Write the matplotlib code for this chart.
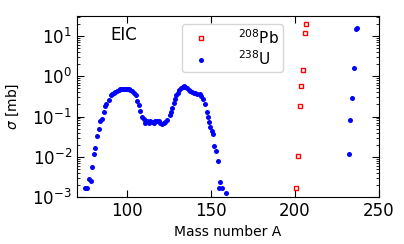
import numpy as np
import matplotlib
matplotlib.use('Agg')
import matplotlib.pyplot as plt

# 238U fragments (blue dots)
u_mass = [74.8, 76.0, 77.1, 78.3, 79.2, 80.1, 81.1, 82.1, 83.1, 84.1, 85.1, 86.3, 87.1, 87.7,
          89.0, 90.1, 90.7, 92.0, 93.0, 94.0, 95.0, 96.0, 97.0, 98.0, 99.0, 100.0, 101.0,
          102.0, 103.0, 104.0, 105.0, 106.0, 106.9, 107.9, 108.9, 109.9,
          110.9, 111.9, 112.9, 113.9, 114.9, 115.8, 116.8, 117.8, 118.8, 119.8, 120.8,
          121.8, 122.8, 123.8, 125.4, 126.2, 126.8, 127.8, 128.3, 129.2, 130.1, 131.1,
          132.1, 133.1, 133.9, 134.7, 135.7, 136.7, 137.7, 138.7, 139.6, 140.7, 141.7,
          143.2, 144.0, 145.2, 146.4, 147.4, 148.3, 148.9, 149.5, 150.6, 151.2, 152.0,
          153.0, 154.0, 154.9, 155.5, 156.5, 158.9,
          231.9, 232.7, 233.7, 234.9, 236.5, 237.1]
u_sigma = [0.00166, 0.00166, 0.0028, 0.0025, 0.0056, 0.0118, 0.0165, 0.032, 0.048, 0.079,
           0.087, 0.13, 0.18, 0.20, 0.26, 0.34, 0.36, 0.39, 0.42, 0.44, 0.46, 0.48, 0.48,
           0.48, 0.48, 0.49, 0.48, 0.46, 0.43, 0.39, 0.35, 0.25, 0.19, 0.14, 0.10, 0.085,
           0.071, 0.079, 0.071, 0.079, 0.075, 0.068, 0.079, 0.077, 0.079, 0.071, 0.066,
           0.071, 0.075, 0.083, 0.11, 0.13, 0.16, 0.22, 0.28, 0.35, 0.39, 0.46, 0.50,
           0.55, 0.58, 0.55, 0.50, 0.46, 0.43, 0.42, 0.39, 0.38, 0.36, 0.36, 0.32, 0.27,
           0.20, 0.13, 0.10, 0.074, 0.056, 0.043, 0.036, 0.019, 0.014, 0.0078, 0.00166,
           0.0024, 0.00166, 0.00126,
           0.0118, 0.083, 0.29, 1.58, 15.0, 15.8]

# 208Pb fragments (red open squares)
pb_mass = [200.6, 202.0, 202.7, 203.8, 204.8, 205.7, 206.7]
pb_sigma = [0.00166, 0.0104, 0.18, 0.58, 1.43, 11.7, 20.6]

fig = plt.figure(figsize=(4.04, 2.44), dpi=100)
ax = fig.add_axes([0.19, 0.193, 0.748, 0.741])

ax.plot(pb_mass, pb_sigma, 's', color='red', mfc='none', ms=3, mew=1.0, label=r'$^{208}$Pb')
ax.plot(u_mass, u_sigma, 'o', color='blue', ms=3.6, mec='none', label=r'$^{238}$U')

ax.set_yscale('log')
ax.set_xlim(70, 250)
ax.set_ylim(1e-3, 10**1.5)
ax.set_xticks([100, 150, 200, 250])
ax.tick_params(which='both', direction='in', top=True, right=True, labelsize=12)
ax.tick_params(which='major', length=5)
ax.set_xlabel('Mass number A', fontsize=10)
ax.set_ylabel(r'$\sigma$ [mb]', fontsize=10, labelpad=8)
ax.text(0.11, 0.87, 'EIC', transform=ax.transAxes, fontsize=12)
ax.legend(loc='upper left', bbox_to_anchor=(0.348, 0.956), borderaxespad=0, fontsize=11,
          borderpad=0.25, labelspacing=0.2, handletextpad=1.4)

fig.savefig('out.png', dpi=100)
